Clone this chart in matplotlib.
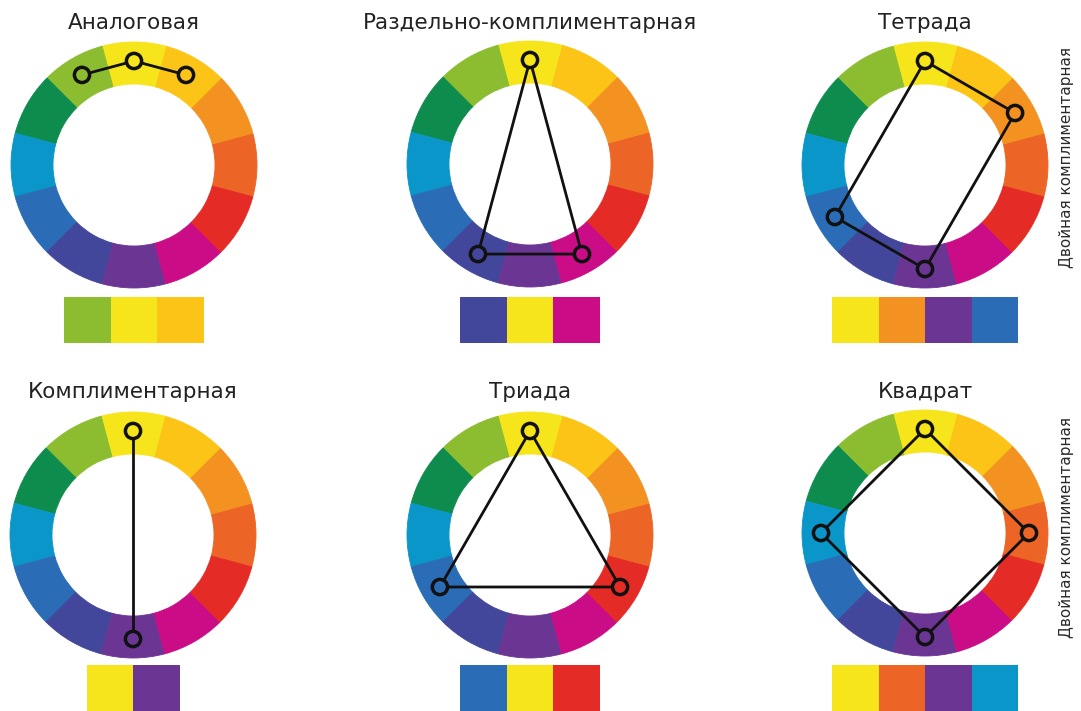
import matplotlib
matplotlib.use('Agg')
import numpy as np
import matplotlib.pyplot as plt
from matplotlib.patches import Wedge, Rectangle

# 12 wheel segments, counter-clockwise starting from the one centred at 0 deg (right)
seg_angles = [0, 30, 60, 90, 120, 150, 180, 210, 240, 270, 300, 330]
seg_colors = ['#ec6526', '#f39121', '#fcc416', '#f6e51a', '#8cbd30', '#0d8c4d',
              '#0b96c9', '#2a6cb5', '#43479b', '#6b3594', '#cb0c87', '#e42b25']
color_of = dict(zip(seg_angles, seg_colors))

titles = ['Аналоговая', 'Раздельно-комплиментарная', 'Тетрада',
          'Комплиментарная', 'Триада', 'Квадрат']
# chosen hues (angles), in drawing order of the connecting line
picks = [[120, 90, 60],
         [90, 240, 300],
         [90, 30, 270, 210],
         [90, 270],
         [90, 210, 330],
         [90, 0, 270, 180]]
closed = [False, True, True, False, True, True]
swatches = [[120, 90, 60],
            [240, 90, 300],
            [90, 30, 270, 210],
            [90, 270],
            [210, 90, 330],
            [90, 0, 270, 180]]
side_label = 'Двойная комплиментарная'

# layout (pixels)
W, H = 1081, 711
centers = [(134, 165), (530, 164), (925, 165), (133, 535), (530, 535), (925, 533)]
R_out, R_in, R_mark = 123, 81, 104
title_y = [23, 23, 23, 392, 392, 392]
sw_top = [297, 297, 297, 665, 665, 665]
sw_w, sw_h = 46.5, 46

fig = plt.figure(figsize=(W / 100, H / 100), dpi=100)
ax = fig.add_axes([0, 0, 1, 1])
ax.set_xlim(0, W)
ax.set_ylim(H, 0)
ax.set_aspect('equal')
ax.axis('off')

for i, (cx, cy) in enumerate(centers):
    # wheel (y axis is inverted, so negate angles to keep counter-clockwise look)
    for a, c in zip(seg_angles, seg_colors):
        ax.add_patch(Wedge((cx, cy), R_out, -a - 15, -a + 15, width=R_out - R_in,
                           facecolor=c, edgecolor=c, linewidth=0.6))
    # connecting lines and markers (marker filled with the hue beneath it)
    ang = np.radians(picks[i])
    xs = cx + R_mark * np.cos(ang)
    ys = cy - R_mark * np.sin(ang)
    if closed[i]:
        lx, ly = np.append(xs, xs[0]), np.append(ys, ys[0])
    else:
        lx, ly = xs, ys
    ax.plot(lx, ly, color='#111111', lw=2, zorder=3)
    ax.scatter(xs, ys, s=120, c=[color_of[a] for a in picks[i]],
               edgecolors='#111111', linewidths=2.5, zorder=4)
    # title
    ax.text(cx, title_y[i], titles[i], ha='center', va='center', fontsize=15.5,
            color='#222222', family='DejaVu Sans')
    # swatches
    n = len(swatches[i])
    x0 = cx - n * sw_w / 2
    for k, a in enumerate(swatches[i]):
        ax.add_patch(Rectangle((x0 + k * sw_w, sw_top[i]), sw_w, sw_h,
                               facecolor=color_of[a], edgecolor='none'))

for yc in [158, 527]:
    ax.text(1066, yc, side_label, rotation=90, ha='center', va='center',
            fontsize=11, color='#2a2a2a')

fig.savefig('out.png', dpi=100, facecolor='white')
